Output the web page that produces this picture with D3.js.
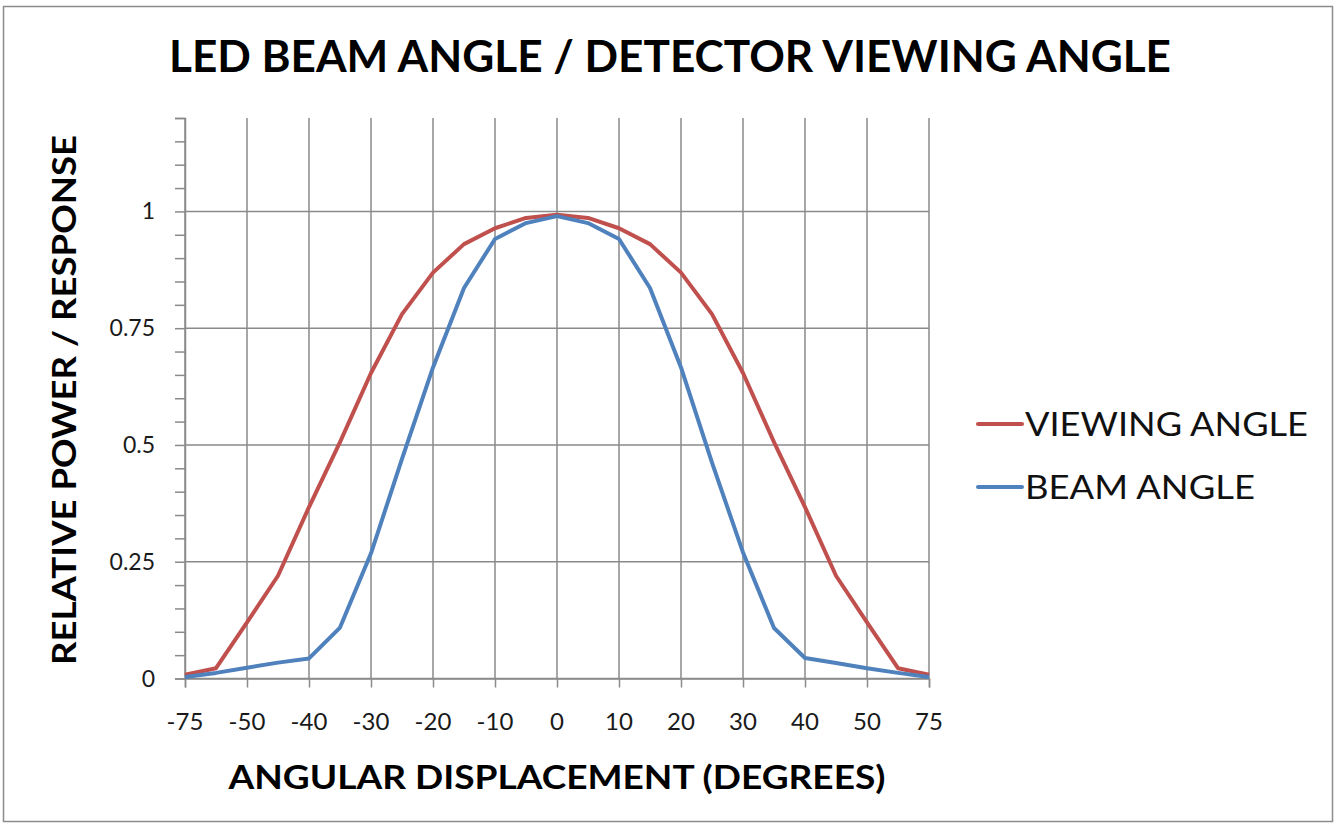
<!DOCTYPE html>
<html>
<head>
<meta charset="utf-8">
<script src="https://cdn.jsdelivr.net/npm/d3@7"></script>
<style>
body { margin: 0; background: #fff; }
text { font-family: Lato, "Open Sans", sans-serif; }
</style>
</head>
<body>
<script>
// categories on a category axis, only every other one is labelled
const angles = ["-75", "-60", "-50", "-45", "-40", "-35", "-30", "-25", "-20", "-15", "-10", "-5", "0",
  "5", "10", "15", "20", "25", "30", "35", "40", "45", "50", "60", "75"];
const viewing = [0.008, 0.022, 0.12, 0.22, 0.367, 0.506, 0.654, 0.78, 0.869, 0.93, 0.964, 0.986, 0.993,
  0.986, 0.964, 0.93, 0.869, 0.78, 0.654, 0.506, 0.367, 0.22, 0.12, 0.022, 0.008];
const beam = [0.003, 0.012, 0.023, 0.034, 0.043, 0.109, 0.268, 0.47, 0.666, 0.836, 0.941, 0.975, 0.99,
  0.975, 0.941, 0.836, 0.666, 0.462, 0.27, 0.108, 0.044, 0.033, 0.022, 0.012, 0.003];
const yTicks = [0, 0.25, 0.5, 0.75, 1];
const seriesNames = ["VIEWING ANGLE", "BEAM ANGLE"];
const legendWidths = [283, 230];
const colors = ["#C0504D", "#4F81BD"];

const width = 1334, height = 825;
const plot = {left: 185, right: 929, top: 118, bottom: 678.5};

const svg = d3.select("body").append("svg")
  .attr("width", width)
  .attr("height", height);

svg.append("rect")
  .attr("x", 3.5).attr("y", 6.5)
  .attr("width", 1329).attr("height", 815)
  .attr("fill", "#fff")
  .attr("stroke", "#8c8c8c")
  .attr("stroke-width", 1.5);

const x = d3.scalePoint().domain(angles).range([plot.left, plot.right]);
const y = d3.scaleLinear().domain([0, 1.2]).range([plot.bottom, plot.top]);

const labelled = angles.filter((d, i) => i % 2 === 0);

// gridlines
svg.append("g")
  .selectAll("line")
  .data(labelled)
  .join("line")
  .attr("x1", d => x(d)).attr("x2", d => x(d))
  .attr("y1", plot.top).attr("y2", plot.bottom)
  .attr("stroke", "#8a8a8a").attr("stroke-width", 1.5);

svg.append("g")
  .selectAll("line")
  .data(yTicks)
  .join("line")
  .attr("x1", plot.left).attr("x2", plot.right)
  .attr("y1", d => y(d)).attr("y2", d => y(d))
  .attr("stroke", "#8a8a8a").attr("stroke-width", 1.5);

// y axis with minor ticks every 0.05
const yAxis = svg.append("g")
  .attr("transform", `translate(${plot.left},0)`)
  .call(d3.axisLeft(y).tickValues(d3.range(0, 1.2001, 0.05)).tickSize(10).tickFormat(""));
yAxis.select(".domain").attr("stroke", "#8a8a8a").attr("stroke-width", 1.5);
yAxis.selectAll(".tick line").attr("stroke", "#8a8a8a").attr("stroke-width", 1.5);

svg.append("g")
  .selectAll("text")
  .data(yTicks)
  .join("text")
  .attr("x", 155)
  .attr("y", d => y(d) + 8)
  .attr("text-anchor", "end")
  .attr("font-size", 23)
  .attr("fill", "#1a1a1a")
  .text(d => d);

// x axis
const xAxis = svg.append("g")
  .attr("transform", `translate(0,${plot.bottom})`)
  .call(d3.axisBottom(x).tickValues(labelled).tickSize(9).tickFormat(""));
xAxis.select(".domain").attr("stroke", "#8a8a8a").attr("stroke-width", 1.5);
xAxis.selectAll(".tick line").attr("stroke", "#8a8a8a").attr("stroke-width", 1.5);

svg.append("g")
  .selectAll("text")
  .data(labelled)
  .join("text")
  .attr("x", d => x(d))
  .attr("y", 730)
  .attr("text-anchor", "middle")
  .attr("font-size", 24)
  .attr("fill", "#1a1a1a")
  .text(d => d);

// series
const line = d3.line().x((d, i) => x(angles[i])).y(d => y(d));
[viewing, beam].forEach((s, k) => {
  svg.append("path")
    .datum(s)
    .attr("d", line)
    .attr("fill", "none")
    .attr("stroke", colors[k])
    .attr("stroke-width", 4)
    .attr("stroke-linejoin", "round");
});

// legend
const legend = svg.append("g")
  .selectAll("g")
  .data(seriesNames)
  .join("g")
  .attr("transform", (d, i) => `translate(978,${424 + i * 63})`);
legend.append("line")
  .attr("x1", 0).attr("x2", 44)
  .attr("stroke", (d, i) => colors[i])
  .attr("stroke-width", 4)
  .attr("stroke-linecap", "round");
legend.append("text")
  .attr("x", 47).attr("y", 12)
  .attr("font-size", 33)
  .attr("fill", "#111")
  .attr("textLength", (d, i) => legendWidths[i])
  .attr("lengthAdjust", "spacingAndGlyphs")
  .text(d => d);

// titles
svg.append("text")
  .attr("x", 670).attr("y", 72)
  .attr("text-anchor", "middle")
  .attr("font-size", 44).attr("font-weight", "bold")
  .attr("textLength", 1002).attr("lengthAdjust", "spacingAndGlyphs")
  .text("LED BEAM ANGLE  / DETECTOR VIEWING ANGLE");

svg.append("text")
  .attr("x", 557).attr("y", 789)
  .attr("text-anchor", "middle")
  .attr("font-size", 32).attr("font-weight", "bold")
  .attr("textLength", 657).attr("lengthAdjust", "spacingAndGlyphs")
  .text("ANGULAR DISPLACEMENT (DEGREES)");

svg.append("text")
  .attr("transform", "translate(76,400) rotate(-90)")
  .attr("text-anchor", "middle")
  .attr("font-size", 32).attr("font-weight", "bold")
  .attr("textLength", 530).attr("lengthAdjust", "spacingAndGlyphs")
  .text("RELATIVE POWER / RESPONSE");
</script>
</body>
</html>
